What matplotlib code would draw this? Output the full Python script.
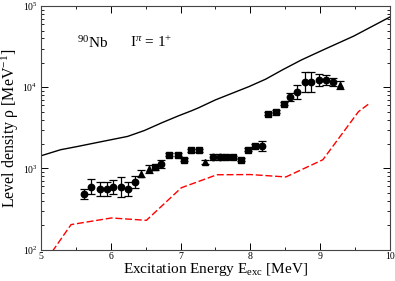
import numpy as np
import matplotlib
matplotlib.use("Agg")
import matplotlib.pyplot as plt
from matplotlib.ticker import LogLocator, MultipleLocator, LogFormatterMathtext, NullFormatter

plt.rcParams['font.family'] = ['Liberation Serif', 'DejaVu Serif']
plt.rcParams['mathtext.fontset'] = 'custom'
plt.rcParams['mathtext.rm'] = 'Liberation Serif'
plt.rcParams['mathtext.it'] = 'Liberation Serif:italic'
plt.rcParams['mathtext.bf'] = 'Liberation Serif:bold'

# experimental data
exp_E = [5.61, 5.72, 5.84, 5.94, 6.03, 6.14, 6.24, 6.35, 6.43, 6.54,
         6.64, 6.72, 6.84, 6.96, 7.05, 7.15, 7.26, 7.35, 7.46, 7.56,
         7.65, 7.75, 7.86, 7.97, 8.06, 8.17, 8.26, 8.37, 8.48, 8.57,
         8.67, 8.78, 8.87, 8.99, 9.09, 9.19, 9.29]
exp_rho = [484, 596, 558, 558, 590, 590, 558, 686, 861, 984,
           1035, 1127, 1473, 1473, 1279, 1675, 1675, 1207, 1365, 1365,
           1365, 1365, 1279, 1700, 1903, 1903, 4710, 5025, 6250, 7690,
           8770, 11560, 11560, 12330, 12330, 11560, 10720]
exp_err_dex = [0.062, 0.090, 0.092, 0.092, 0.092, 0.123, 0.092, 0.074, 0.041, 0.049,
               0.031, 0.053, 0.018, 0.018, 0.018, 0.018, 0.018, 0.025, 0.037, 0.037,
               0.018, 0.018, 0.018, 0.018, 0.018, 0.062, 0.018, 0.018, 0.018, 0.049,
               0.086, 0.123, 0.123, 0.074, 0.062, 0.049, 0.049]
exp_marker = ['o', 'o', 'o', 'o', 'o', 'o', 'o', 'o', '^', '^',
              's', 'o', 's', 's', 's', 's', 's', '^', 'o', 'o',
              's', 's', 's', 's', 's', 'o', 's', 's', 's', 'o',
              'o', 'o', 'o', 'o', 'o', 'o', '^']

# theory (solid black)
theo_E = [5.0, 5.28, 5.52, 5.76, 6.0, 6.24, 6.48, 6.73, 6.97, 7.16,
          7.26, 7.50, 7.74, 7.98, 8.22, 8.46, 8.73, 9.04, 9.48, 10.0]
theo_rho = [1432, 1700, 1862, 2050, 2255, 2480, 2930, 3650, 4450, 5150,
            5600, 7000, 8450, 10200, 12600, 16400, 21700, 28800, 42700, 73500]

# red dashed curve
red_E = [5.0, 5.43, 6.01, 6.51, 7.01, 7.52, 8.0, 8.51, 9.04, 9.55, 9.72]
red_rho = [60, 203, 245, 229, 577, 835, 840, 785, 1280, 5010, 6450]

fig = plt.figure(figsize=(3.95, 2.81), dpi=100)
ax = fig.add_axes([0.104, 0.112, 0.883, 0.866])

ax.plot(theo_E, theo_rho, color='black', lw=1.0)
ax.plot(red_E, red_rho, color='red', lw=1.0, dashes=(5, 2))

E = np.array(exp_E)
R = np.array(exp_rho, dtype=float)
D = np.array(exp_err_dex)
lo = R - R * 10 ** (-D)
hi = R * 10 ** D - R
for e, r, l, h, m in zip(E, R, lo, hi, exp_marker):
    ms = 4.6 if m == 'o' else (4.2 if m == 's' else 4.8)
    ax.errorbar([e], [r], yerr=[[l], [h]], fmt=m, color='black', ms=ms,
                capsize=2.8, elinewidth=0.9, capthick=0.9)

ax.set_yscale('log')
ax.set_xlim(5, 10)
ax.set_ylim(100, 1e5)

ax.xaxis.set_major_locator(MultipleLocator(1))
ax.xaxis.set_minor_locator(MultipleLocator(0.5))
ax.yaxis.set_major_locator(LogLocator(base=10))
ax.yaxis.set_minor_locator(LogLocator(base=10, subs=np.arange(2, 10)))
ax.yaxis.set_major_formatter(LogFormatterMathtext())
ax.yaxis.set_minor_formatter(NullFormatter())

ax.tick_params(which='both', direction='in', top=True, right=True, labelsize=7)
ax.tick_params(axis='x', which='both', pad=2)
ax.tick_params(axis='y', which='both', pad=2.5)
ax.tick_params(which='major', length=5, width=0.7)
ax.tick_params(which='minor', length=2.5, width=0.6)
for s in ax.spines.values():
    s.set_linewidth(0.8)
    s.set_color('#444444')

ax.set_xlabel('Excitation Energy E$_{\\mathrm{exc}}$ [MeV]', fontsize=11, labelpad=0)
ax.set_ylabel('Level density ρ [MeV$^{-1}$]', fontsize=11.5, labelpad=1)

ax.text(0.103, 0.85, '$^{90}$Nb', transform=ax.transAxes, fontsize=11, va='center', ha='left')
ax.text(0.255, 0.85, 'I$^{\\pi}$ = 1$^{+}$', transform=ax.transAxes, fontsize=11, va='center', ha='left')

fig.savefig('out.png', dpi=100)
